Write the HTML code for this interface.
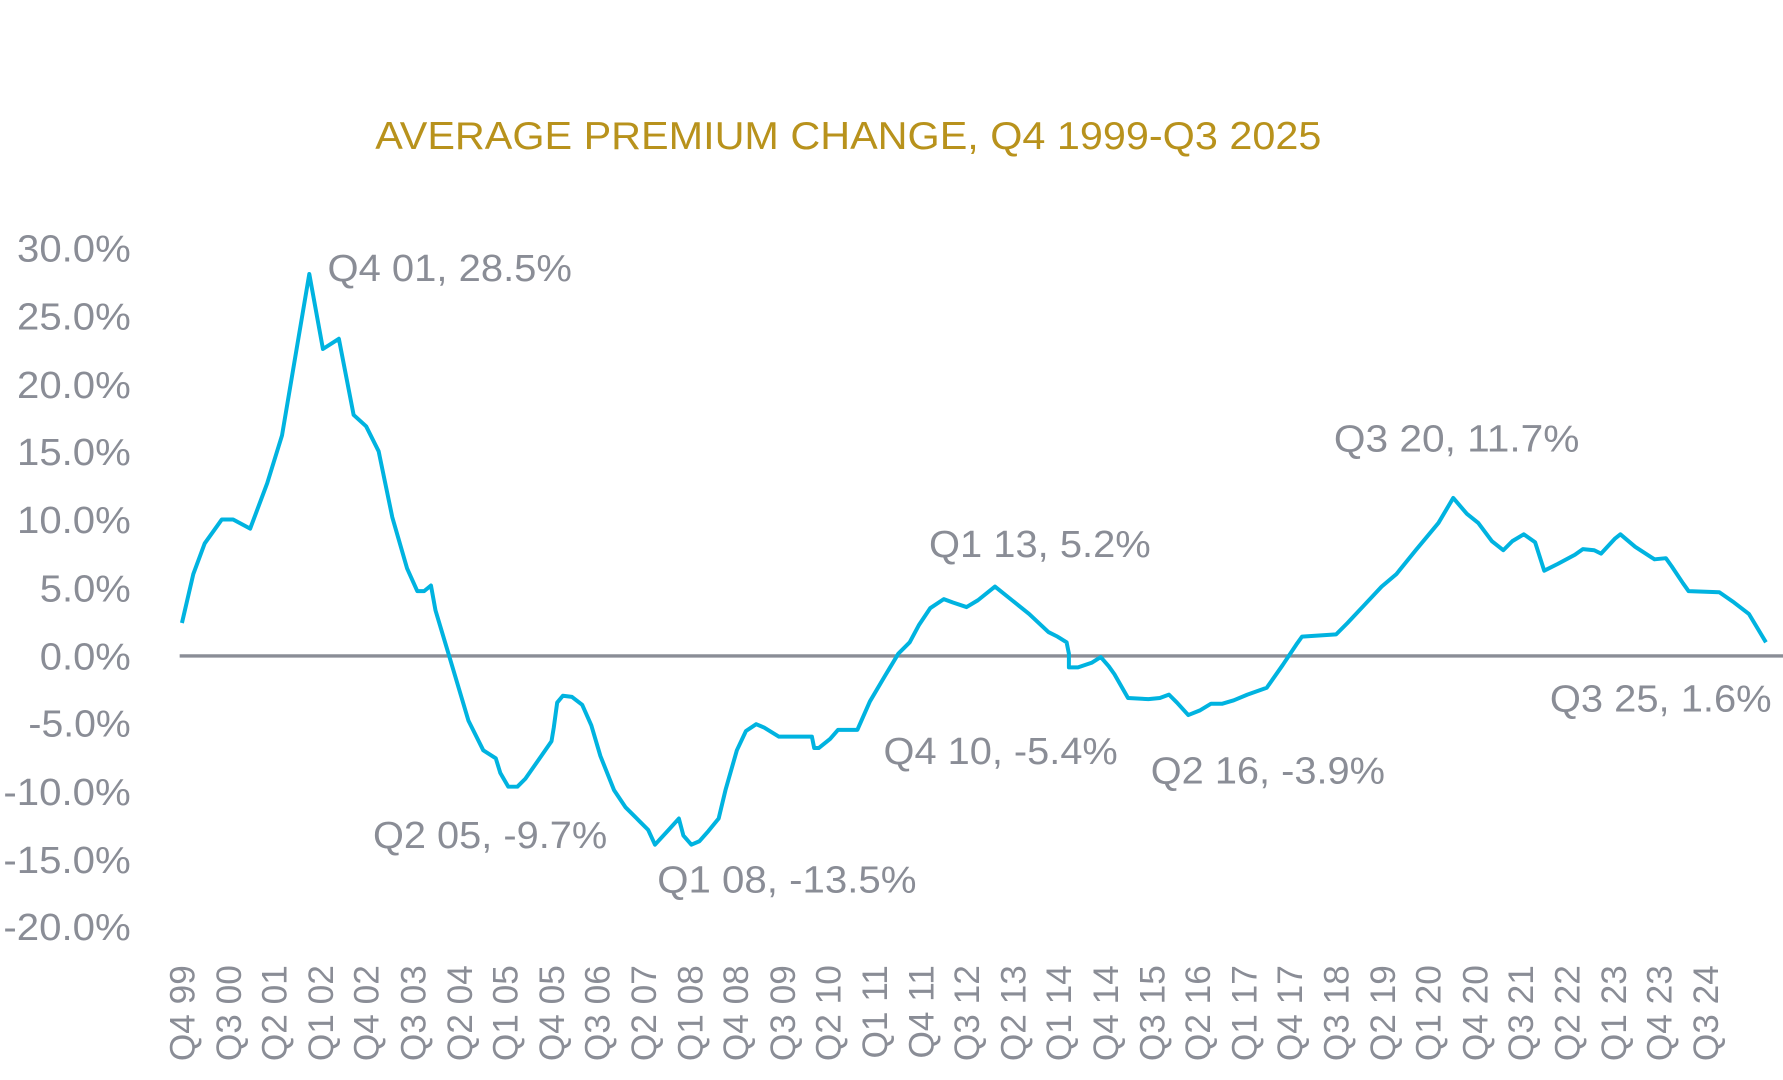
<!DOCTYPE html>
<html><head><meta charset="utf-8"><style>html,body{margin:0;padding:0;background:#fff}svg{display:block}</style></head>
<body>
<svg width="1783" height="1080" viewBox="0 0 1568 950" preserveAspectRatio="none" xmlns="http://www.w3.org/2000/svg" font-family="Liberation Sans, sans-serif">
<rect width="1568" height="950" fill="#fff"/>
<text x="746" y="131" text-anchor="middle" font-size="34" fill="#b8921c" textLength="832" lengthAdjust="spacingAndGlyphs">AVERAGE PREMIUM CHANGE, Q4 1999-Q3 2025</text>
<g font-size="33" fill="#8a8d96" text-anchor="end">
<text x="115" y="230" textLength="100" lengthAdjust="spacingAndGlyphs">30.0%</text>
<text x="115" y="290" textLength="100" lengthAdjust="spacingAndGlyphs">25.0%</text>
<text x="115" y="350" textLength="100" lengthAdjust="spacingAndGlyphs">20.0%</text>
<text x="115" y="409" textLength="100" lengthAdjust="spacingAndGlyphs">15.0%</text>
<text x="115" y="469" textLength="100" lengthAdjust="spacingAndGlyphs">10.0%</text>
<text x="115" y="529" textLength="80" lengthAdjust="spacingAndGlyphs">5.0%</text>
<text x="115" y="589" textLength="80" lengthAdjust="spacingAndGlyphs">0.0%</text>
<text x="115" y="648" textLength="90" lengthAdjust="spacingAndGlyphs">-5.0%</text>
<text x="115" y="708" textLength="112" lengthAdjust="spacingAndGlyphs">-10.0%</text>
<text x="115" y="768" textLength="112" lengthAdjust="spacingAndGlyphs">-15.0%</text>
<text x="115" y="827" textLength="112" lengthAdjust="spacingAndGlyphs">-20.0%</text>
</g>
<line x1="158" y1="577" x2="1568" y2="577" stroke="#8a8d96" stroke-width="3"/>
<polyline fill="none" stroke="#00b3e0" stroke-width="3.5" stroke-linejoin="round" points="160,548 170,505 180,478 195,457 205,457 220,465 235,425 248,383 272,241 284,307 298,298 311,365 322,375 333,397 345,455 358,500 367,520 373,520 379,515 383,537 395,577 412,634 425,660 436,667 440,680 447,692 455,692 462,685 476,665 485,652 487,640 490,618 495,612 503,613 512,620 520,638 528,665 540,695 550,710 562,722 570,730 576,743 588,730 597,720 601,735 608,743 615,740 623,731 632,720 638,695 648,660 656,643 665,637 672,640 685,648 714,648 716,658 720,658 730,650 737,642 754,642 765,617 778,595 790,575 800,565 808,550 818,535 830,527 838,530 850,534 860,528 875,516 890,528 905,540 922,556 930,560 938,565 940,575 940,587 948,587 960,583 968,578 975,586 980,593 992,614 1010,615 1020,614 1028,611 1035,618 1045,629 1055,625 1065,619 1075,619 1085,616 1097,611 1114,605 1128,585 1140,567 1145,560 1175,558 1185,548 1200,532 1215,516 1228,505 1245,484 1265,460 1278,438 1290,452 1300,460 1312,476 1322,484 1330,476 1340,470 1350,477 1358,502 1370,496 1385,488 1392,483 1402,484 1408,487 1420,474 1425,470 1438,481 1455,492 1465,491 1470,498 1480,513 1485,520 1512,521 1525,530 1538,540 1553,565"/>
<g font-size="33" fill="#8a8d96" lengthAdjust="spacingAndGlyphs">
<text x="288" y="247" textLength="215" lengthAdjust="spacingAndGlyphs">Q4 01, 28.5%</text>
<text x="817" y="490" textLength="195" lengthAdjust="spacingAndGlyphs">Q1 13, 5.2%</text>
<text x="1173" y="397" textLength="216" lengthAdjust="spacingAndGlyphs">Q3 20, 11.7%</text>
<text x="777" y="672" textLength="206" lengthAdjust="spacingAndGlyphs">Q4 10, -5.4%</text>
<text x="1012" y="689" textLength="206" lengthAdjust="spacingAndGlyphs">Q2 16, -3.9%</text>
<text x="328" y="746" textLength="206" lengthAdjust="spacingAndGlyphs">Q2 05, -9.7%</text>
<text x="578" y="785" textLength="228" lengthAdjust="spacingAndGlyphs">Q1 08, -13.5%</text>
<text x="1363" y="626" textLength="195" lengthAdjust="spacingAndGlyphs">Q3 25, 1.6%</text>
</g>
<g font-size="31" fill="#8a8d96" text-anchor="end">
<text transform="translate(171,849) rotate(-90)">Q4 99</text>
<text transform="translate(212,849) rotate(-90)">Q3 00</text>
<text transform="translate(252,849) rotate(-90)">Q2 01</text>
<text transform="translate(293,849) rotate(-90)">Q1 02</text>
<text transform="translate(333,849) rotate(-90)">Q4 02</text>
<text transform="translate(374,849) rotate(-90)">Q3 03</text>
<text transform="translate(415,849) rotate(-90)">Q2 04</text>
<text transform="translate(455,849) rotate(-90)">Q1 05</text>
<text transform="translate(496,849) rotate(-90)">Q4 05</text>
<text transform="translate(536,849) rotate(-90)">Q3 06</text>
<text transform="translate(577,849) rotate(-90)">Q2 07</text>
<text transform="translate(618,849) rotate(-90)">Q1 08</text>
<text transform="translate(658,849) rotate(-90)">Q4 08</text>
<text transform="translate(699,849) rotate(-90)">Q3 09</text>
<text transform="translate(739,849) rotate(-90)">Q2 10</text>
<text transform="translate(780,849) rotate(-90)">Q1 11</text>
<text transform="translate(821,849) rotate(-90)">Q4 11</text>
<text transform="translate(861,849) rotate(-90)">Q3 12</text>
<text transform="translate(902,849) rotate(-90)">Q2 13</text>
<text transform="translate(942,849) rotate(-90)">Q1 14</text>
<text transform="translate(983,849) rotate(-90)">Q4 14</text>
<text transform="translate(1024,849) rotate(-90)">Q3 15</text>
<text transform="translate(1064,849) rotate(-90)">Q2 16</text>
<text transform="translate(1105,849) rotate(-90)">Q1 17</text>
<text transform="translate(1145,849) rotate(-90)">Q4 17</text>
<text transform="translate(1186,849) rotate(-90)">Q3 18</text>
<text transform="translate(1227,849) rotate(-90)">Q2 19</text>
<text transform="translate(1267,849) rotate(-90)">Q1 20</text>
<text transform="translate(1308,849) rotate(-90)">Q4 20</text>
<text transform="translate(1348,849) rotate(-90)">Q3 21</text>
<text transform="translate(1389,849) rotate(-90)">Q2 22</text>
<text transform="translate(1430,849) rotate(-90)">Q1 23</text>
<text transform="translate(1470,849) rotate(-90)">Q4 23</text>
<text transform="translate(1511,849) rotate(-90)">Q3 24</text>
</g>
</svg>
</body></html>
